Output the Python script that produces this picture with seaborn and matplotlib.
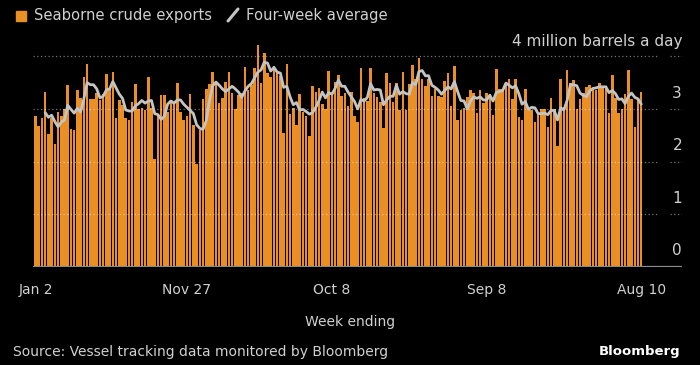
import matplotlib
matplotlib.use("Agg")
import numpy as np
import pandas as pd
import seaborn as sns
import matplotlib.pyplot as plt
import matplotlib.transforms as mtransforms
from matplotlib.lines import Line2D
from matplotlib.patches import Rectangle


# weekly seaborne crude exports, million barrels a day (week ending Jan 2 ... Aug 10)
exports = [
    2.87, 2.67, 2.83, 3.33, 2.52, 2.83, 2.34, 2.95, 2.87, 3.00,
    3.46, 2.62, 2.60, 3.35, 3.20, 3.61, 3.85, 3.19, 3.19, 3.30,
    3.17, 3.28, 3.67, 3.40, 3.71, 2.83, 3.17, 3.07, 2.83, 2.78,
    3.14, 3.47, 2.99, 3.02, 2.97, 3.61, 3.02, 2.05, 2.87, 3.27,
    3.26, 2.95, 3.11, 3.11, 3.50, 2.95, 2.79, 2.87, 3.28, 2.69,
    1.96, 2.60, 3.19, 3.37, 3.48, 3.71, 3.49, 3.12, 3.20, 3.51,
    3.70, 3.31, 3.00, 3.27, 3.30, 3.80, 3.35, 3.45, 3.77, 4.22,
    3.50, 4.07, 3.68, 3.61, 3.81, 3.68, 3.62, 2.54, 3.86, 2.91,
    3.02, 2.70, 3.28, 2.95, 2.86, 2.49, 3.43, 3.33, 3.40, 3.10,
    3.00, 3.73, 3.30, 3.52, 3.65, 3.25, 3.31, 3.05, 3.32, 2.87,
    2.75, 3.78, 3.20, 3.15, 3.78, 3.30, 3.23, 3.14, 2.63, 3.68,
    3.49, 3.14, 3.50, 2.97, 3.70, 2.97, 3.48, 3.84, 3.56, 3.96,
    3.56, 3.43, 3.57, 3.25, 3.38, 3.24, 3.23, 3.54, 3.68, 3.05,
    3.81, 2.78, 2.98, 3.02, 3.23, 3.35, 3.30, 2.93, 3.35, 3.11,
    3.30, 3.28, 2.89, 3.75, 3.38, 3.38, 3.46, 3.56, 3.18, 3.57,
    2.84, 2.78, 3.37, 2.98, 2.97, 2.76, 2.92, 3.00, 3.00, 2.65,
    3.21, 3.00, 2.29, 3.57, 3.04, 3.74, 3.49, 3.55, 2.99, 3.18,
    3.31, 3.42, 3.45, 3.39, 3.35, 3.49, 3.43, 3.40, 2.93, 3.64,
    3.20, 2.93, 2.99, 3.28, 3.74, 3.18, 2.66, 3.17, 3.33,
]

# four-week average line, starts at the 4th week
avg_start = 3
four_week_avg = [
    2.93, 2.84, 2.88, 2.76, 2.66, 2.75, 2.79, 3.07, 2.99, 2.92,
    3.01, 2.94, 3.19, 3.50, 3.46, 3.46, 3.38, 3.21, 3.24, 3.36,
    3.38, 3.52, 3.40, 3.28, 3.20, 2.98, 2.96, 2.96, 3.06, 3.10,
    3.16, 3.11, 3.15, 3.16, 2.91, 2.89, 2.80, 2.86, 3.09, 3.15,
    3.11, 3.17, 3.17, 3.09, 3.03, 2.97, 2.91, 2.70, 2.63, 2.61,
    2.78, 3.16, 3.44, 3.51, 3.45, 3.38, 3.33, 3.38, 3.43, 3.38,
    3.32, 3.22, 3.34, 3.43, 3.48, 3.59, 3.70, 3.74, 3.89, 3.87,
    3.72, 3.79, 3.70, 3.68, 3.41, 3.43, 3.23, 3.08, 3.12, 2.98,
    2.99, 2.95, 2.90, 2.93, 3.03, 3.16, 3.32, 3.21, 3.31, 3.28,
    3.39, 3.55, 3.43, 3.43, 3.32, 3.23, 3.14, 3.00, 3.18, 3.15,
    3.22, 3.48, 3.36, 3.37, 3.36, 3.08, 3.17, 3.24, 3.24, 3.45,
    3.28, 3.33, 3.29, 3.28, 3.50, 3.46, 3.71, 3.73, 3.63, 3.63,
    3.45, 3.41, 3.36, 3.28, 3.35, 3.42, 3.38, 3.52, 3.33, 3.16,
    3.15, 3.00, 3.15, 3.23, 3.20, 3.23, 3.17, 3.17, 3.26, 3.15,
    3.31, 3.33, 3.35, 3.49, 3.45, 3.40, 3.44, 3.29, 3.09, 3.14,
    2.99, 3.03, 3.02, 2.91, 2.91, 2.92, 2.89, 2.97, 2.97, 2.79,
    3.02, 2.98, 3.16, 3.46, 3.46, 3.44, 3.30, 3.26, 3.23, 3.34,
    3.39, 3.40, 3.42, 3.42, 3.42, 3.31, 3.35, 3.29, 3.18, 3.19,
    3.10, 3.24, 3.30, 3.22, 3.19, 3.09,
]

tick_weeks = [0, 47, 92, 140, 188]
tick_labels = ["Jan 2", "Nov 27", "Oct 8", "Sep 8", "Aug 10"]
y_labels = [0, 1, 2, 3]

ORANGE = "#E98F24"
LINE = "#c4c4c4"
TEXT = "#d0d0d0"

sns.set_style("dark")
plt.rcParams["font.family"] = ["DejaVu Sans"]

df = pd.DataFrame({"week": np.arange(len(exports)), "exports": exports})
avg_df = pd.DataFrame({
    "week": np.arange(avg_start, avg_start + len(four_week_avg)),
    "avg": four_week_avg,
})

fig = plt.figure(figsize=(7, 3.65), dpi=100, facecolor="black")
# plot area in pixels: x 33..682, y 40..267
ax = fig.add_axes([33 / 700, 1 - 266.7 / 365, 649 / 700, 226.7 / 365])
ax.set_facecolor("black")

sns.barplot(data=df, x="week", y="exports", native_scale=True, color=ORANGE,
            saturation=1, width=0.78, linewidth=0, errorbar=None, ax=ax, zorder=2)
sns.lineplot(data=avg_df, x="week", y="avg", color=LINE, lw=2.0, ax=ax, zorder=4)

ax.set_xlim(-0.78, 200.65)
ax.set_ylim(0, 4.31)
ax.grid(False)
for s in ax.spines.values():
    s.set_visible(False)
ax.set_xlabel("")
ax.set_ylabel("")
ax.set_yticks([])

# dotted gridlines, broken just before the labels
for v in [1, 2, 3, 4]:
    ax.axhline(v, xmin=0, xmax=0.963, color="white", alpha=0.45, lw=0.9,
               ls=(0, (1, 2)), zorder=3)
    ax.axhline(v, xmin=0.981, xmax=1.0, color="white", alpha=0.45, lw=0.9,
               ls=(0, (1, 2)), zorder=3)
ax.axhline(0, color="#8c8c8c", lw=1.6, zorder=5)

ax.set_xticks(tick_weeks, tick_labels)
ax.tick_params(axis="x", colors="#9a9a9a", length=6, width=1, pad=6,
               labelcolor=TEXT, labelsize=10)

trans = mtransforms.blended_transform_factory(ax.transAxes, ax.transData)
for v in y_labels:
    ax.text(1.0, v + 0.3, str(v), transform=trans, ha="right", va="center",
            color=TEXT, fontsize=11)
ax.text(1.0, 4.29, "4 million barrels a day", transform=trans, ha="right",
        va="center", color=TEXT, fontsize=11)

# legend
fig.patches.append(Rectangle((16 / 700, 1 - 20.5 / 365), 10 / 700, 10 / 365,
                             transform=fig.transFigure, color=ORANGE))
fig.text(34 / 700, 1 - 15.5 / 365, "Seaborne crude exports", va="center",
         color=TEXT, fontsize=10.6)
fig.lines.append(Line2D([228 / 700, 238 / 700], [1 - 21 / 365, 1 - 9 / 365],
                        transform=fig.transFigure, color=LINE, lw=2.2))
fig.text(246 / 700, 1 - 15.5 / 365, "Four-week average", va="center",
         color=TEXT, fontsize=10.6)

fig.text(350 / 700, 1 - 322 / 365, "Week ending", ha="center", va="center",
         color=TEXT, fontsize=10)
fig.text(13 / 700, 1 - 352 / 365,
         "Source: Vessel tracking data monitored by Bloomberg",
         ha="left", va="center", color=TEXT, fontsize=10)
fig.text(680 / 700, 1 - 351 / 365, "Bloomberg", ha="right", va="center",
         color="white", fontsize=9.5, fontweight="bold")

fig.savefig("out.png", dpi=100, facecolor="black")
